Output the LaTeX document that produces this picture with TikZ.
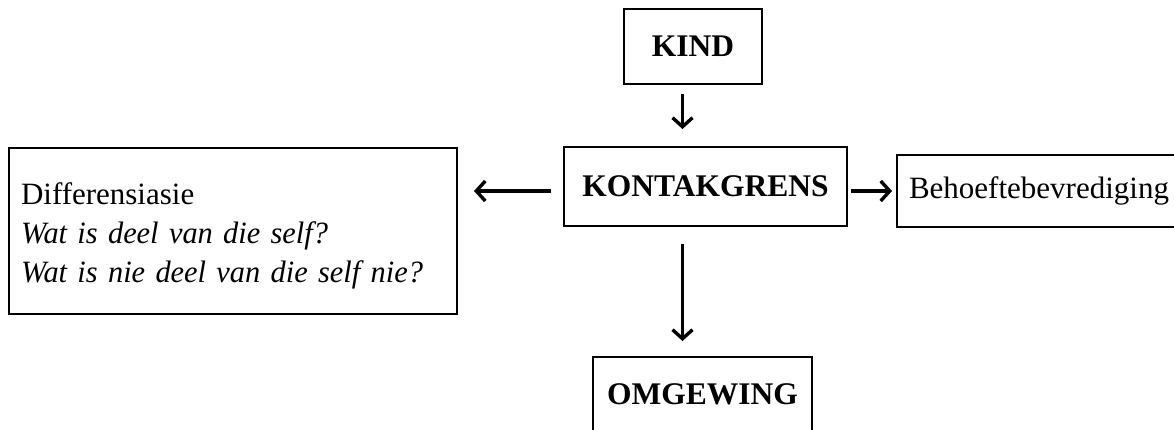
\documentclass[tikz,border=0pt]{standalone}
\usepackage{fontspec}
\setmainfont{Liberation Serif}
\newfontface\itf{Liberation Serif Italic}[FakeStretch=0.98]
\usetikzlibrary{arrows.meta}
\begin{document}
\begin{tikzpicture}[x=1pt,y=-1pt,
  box/.style={draw,line width=2pt,inner sep=0pt,font=\fontsize{31}{39}\selectfont},
  hbox/.style={box,font=\fontsize{31.5}{39}\selectfont\bfseries},
  arr/.style={line width=3.4pt,-{Straight Barb[length=9pt,width=20pt,line width=3.4pt]}}]
\useasboundingbox (0,0) rectangle (1174,429);
\node[hbox,minimum width=138,minimum height=75] (kind) at (693,46.5) {KIND};
\node[hbox,minimum width=283,minimum height=79] (kg) at (705.5,186.5) {KONTAKGRENS};
\node[hbox,minimum width=219,minimum height=75] (omg) at (702.5,394.5) {OMGEWING};
\node[box,anchor=west,inner xsep=12pt,minimum height=72] (beh) at (896,191) {Behoeftebevrediging};
\node[box,anchor=north west,minimum width=448,minimum height=166,text width=424,inner xsep=12pt,align=left] (diff) at (8,147)
  {\rule{0pt}{31pt}Differensiasie\\\itf Wat is deel van die self?\\\itf Wat is nie deel van die self nie?};
\coordinate (ax) at (682.5,0);
\coordinate (ay) at (0,191);
\draw[arr] ([yshift=-9pt]kind.south -| ax) -- ([yshift=17pt]kg.north -| ax);
\draw[arr] ([xshift=-12pt]kg.west |- ay) -- ([xshift=16pt]diff.east |- ay);
\draw[arr] ([xshift=3pt]kg.east |- ay) -- ([xshift=-4pt]beh.west |- ay);
\draw[arr] ([yshift=-17pt]kg.south -| ax) -- ([yshift=15pt]omg.north -| ax);
\end{tikzpicture}
\end{document}
